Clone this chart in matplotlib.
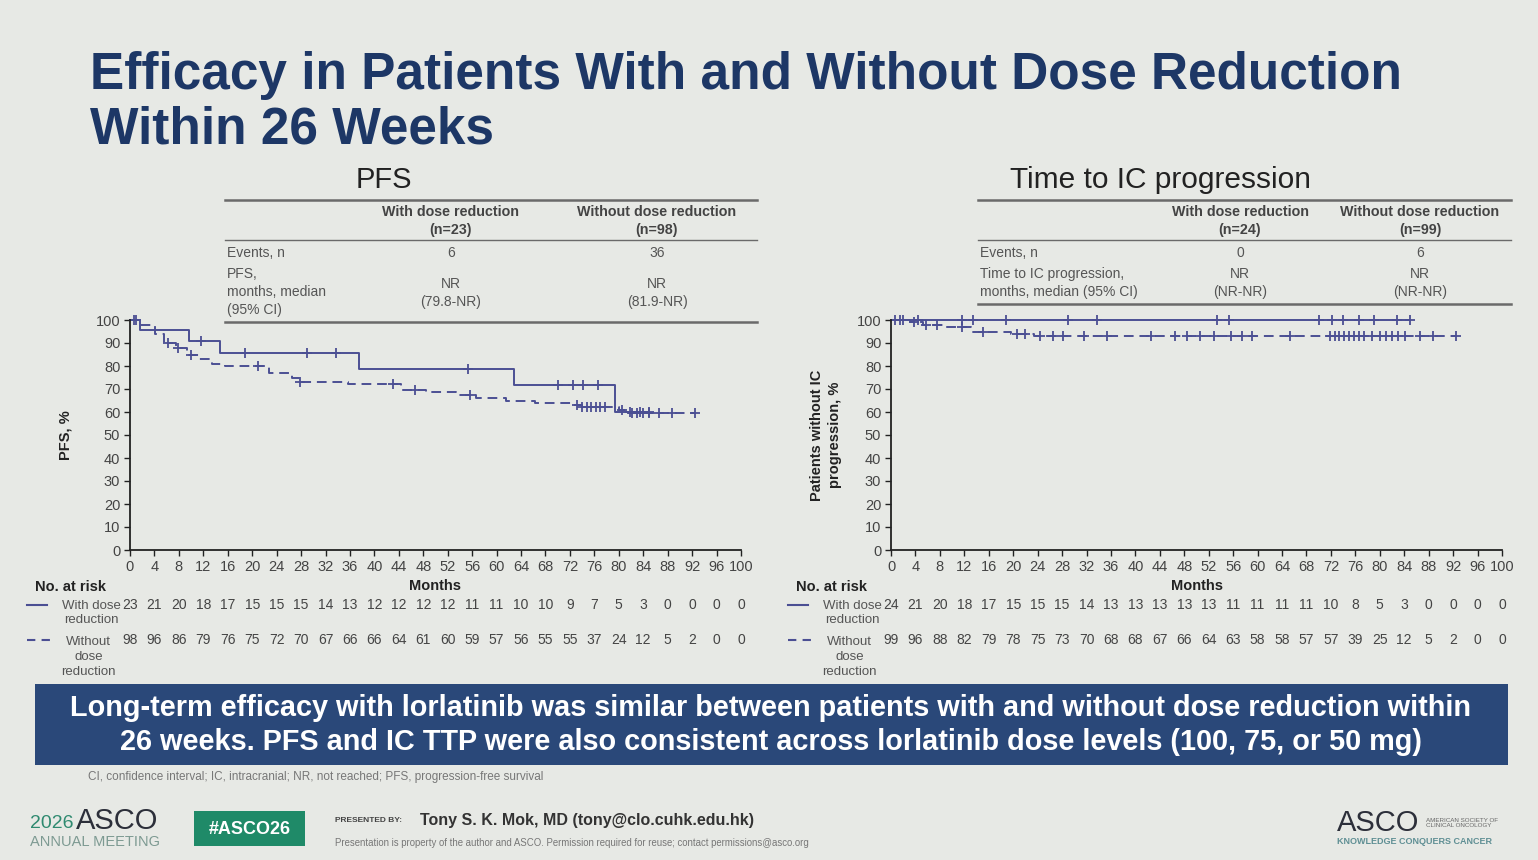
import matplotlib.pyplot as plt
from matplotlib.lines import Line2D
from matplotlib.patches import Rectangle
from matplotlib.transforms import blended_transform_factory
import numpy as np

plt.rcParams['font.family'] = ['Liberation Sans', 'DejaVu Sans']

W, H = 1538, 860

# 数値データ
months = list(range(0, 101, 4))

# PFS: 減量あり / 減量なし
pfs_with_t = [0, 1.7, 9.6, 14.8, 37.5, 62.9, 79.4]
pfs_with_s = [100, 95.7, 90.9, 85.8, 78.8, 71.7, 59.8]
pfs_with_end = 84.9
pfs_with_cens = [1.0, 11.7, 18.9, 28.9, 33.7, 55.3, 70.1, 72.5, 74.2, 76.6, 81.8, 83.5, 84.9]

pfs_wo_t = [0, 1.5, 4.1, 5.5, 7.6, 9.3, 11.3, 13.4, 15.5, 22.7, 26.5, 27.8, 35.7,
            44.3, 48.5, 53.3, 56.7, 61.5, 66.3, 72.5, 73.9, 80.0, 81.4]
pfs_wo_s = [100, 98, 94, 90, 88, 85, 83, 81, 80, 77, 75, 73, 72,
            69.5, 68.5, 67.5, 66, 65, 64, 63, 62, 61, 59.5]
pfs_wo_end = 92.4
pfs_wo_cens = [0.7, 6.2, 7.9, 10.0, 21.0, 27.8, 43.0, 46.7, 55.7, 73.2, 74.0, 74.8,
               75.5, 76.2, 77.0, 77.8, 80.5, 82.2, 83.0, 84.0, 85.0, 86.6, 88.7, 92.4]

# IC progression
ic_with_t = [0]
ic_with_s = [100]
ic_with_end = 84.9
ic_with_cens = [0.7, 2.0, 4.5, 11.7, 13.4, 18.9, 28.9, 33.7, 53.3, 55.3, 70.1, 72.2,
                73.9, 76.6, 79.0, 82.8, 84.9]

ic_wo_t = [0, 3.1, 5.2, 8.9, 13.1, 19.6, 23.4]
ic_wo_s = [100, 99, 98, 97, 95, 94, 93]
ic_wo_end = 92.4
ic_wo_cens = [1.4, 3.8, 5.8, 7.6, 11.7, 15.1, 20.6, 22.0, 24.4, 26.5, 28.2, 31.6, 35.4,
              42.6, 46.4, 48.5, 50.5, 52.9, 55.7, 57.4, 59.1, 65.3, 71.8, 72.6, 73.4,
              74.2, 75.0, 75.8, 76.6, 77.4, 78.7, 80.0, 81.0, 82.0, 83.0, 84.2, 86.6,
              88.7, 92.4]

# at risk
pfs_risk_with = [23, 21, 20, 18, 17, 15, 15, 15, 14, 13, 12, 12, 12, 12, 11, 11, 10, 10, 9, 7, 5, 3, 0, 0, 0, 0]
pfs_risk_wo = [98, 96, 86, 79, 76, 75, 72, 70, 67, 66, 66, 64, 61, 60, 59, 57, 56, 55, 55, 37, 24, 12, 5, 2, 0, 0]
ic_risk_with = [24, 21, 20, 18, 17, 15, 15, 15, 14, 13, 13, 13, 13, 13, 11, 11, 11, 11, 10, 8, 5, 3, 0, 0, 0, 0]
ic_risk_wo = [99, 96, 88, 82, 79, 78, 75, 73, 70, 68, 68, 67, 66, 64, 63, 58, 58, 57, 57, 39, 25, 12, 5, 2, 0, 0]

# 色
bg = '#e7e9e5'
navy = '#1d3766'
km_col = '#4b4f93'


def fx(x):
    return x / W


def fy(y):
    return 1 - y / H


def surv_at(t, s, c):
    idx = np.searchsorted(t, c, side='right') - 1
    return np.array(s)[idx]


def drawKM(ax, t, s, end, cens, dashed):
    xs = list(t) + [end]
    ys = list(s) + [s[-1]]
    kw = dict(color=km_col, lw=1.4, clip_on=False)
    if dashed:
        kw['dashes'] = (5, 3)
    ax.step(xs, ys, where='post', **kw)
    ax.plot(cens, surv_at(t, s, cens), '+', color=km_col, ms=7, mew=1.3, clip_on=False)


def setupAxes(ax):
    ax.set_xlim(0, 100)
    ax.set_ylim(0, 100)
    ax.set_xticks(months)
    ax.set_yticks(range(0, 101, 10))
    ax.set_facecolor('none')
    for sp in ['top', 'right']:
        ax.spines[sp].set_visible(False)
    for sp in ['left', 'bottom']:
        ax.spines[sp].set_color('#222222')
        ax.spines[sp].set_linewidth(1.3)
    ax.tick_params(direction='out', length=4, width=1, color='#222222',
                   labelsize=10.5, labelcolor='#444444', pad=3)


def drawTable(x0, x1, c1, c2, head1, head2, rows, y_top, y_head, y_bot):
    fig.add_artist(Line2D([fx(x0), fx(x1)], [fy(y_top)] * 2, color='#6a6a6a', lw=1.8))
    fig.add_artist(Line2D([fx(x0), fx(x1)], [fy(y_head)] * 2, color='#6a6a6a', lw=1.0))
    fig.add_artist(Line2D([fx(x0), fx(x1)], [fy(y_bot)] * 2, color='#6a6a6a', lw=1.8))
    for cx, h in [(c1, head1), (c2, head2)]:
        fig.text(fx(cx), fy(221), h, ha='center', va='center', fontsize=10.3,
                 fontweight='bold', color='#444444', linespacing=1.35)
    for label, ly, v1, v2, vy in rows:
        fig.text(fx(x0 + 2), fy(ly), label, ha='left', va='center', fontsize=10,
                 color='#555555', linespacing=1.4)
        fig.text(fx(c1), fy(vy), v1, ha='center', va='center', fontsize=10,
                 color='#555555', linespacing=1.4)
        fig.text(fx(c2), fy(vy), v2, ha='center', va='center', fontsize=10,
                 color='#555555', linespacing=1.4)


def drawRisk(ax, x_lab, risk_with, risk_wo, x_line):
    blend = blended_transform_factory(ax.transData, fig.transFigure)
    fig.text(fx(x_lab), fy(587), 'No. at risk', ha='left', va='center',
             fontsize=10.5, fontweight='bold', color='#222222')
    ax.text(50, fy(586), 'Months', transform=blend, ha='center', va='center',
            fontsize=10.5, fontweight='bold', color='#222222')
    for m, a, b in zip(months, risk_with, risk_wo):
        ax.text(m, fy(605), str(a), transform=blend, ha='center', va='center',
                fontsize=10, color='#444444', clip_on=False)
        ax.text(m, fy(640), str(b), transform=blend, ha='center', va='center',
                fontsize=10, color='#444444', clip_on=False)
    fig.add_artist(Line2D([fx(x_line), fx(x_line + 20)], [fy(605)] * 2, color=km_col, lw=1.5))
    fig.add_artist(Line2D([fx(x_line), fx(x_line + 23)], [fy(640)] * 2, color=km_col, lw=1.5,
                          dashes=(4, 3)))
    fig.text(fx(x_line + 94), fy(613), 'With dose\nreduction', ha='right', va='center',
             multialignment='center', fontsize=9.5, color='#555555', linespacing=1.3)
    fig.text(fx(x_line + 89), fy(657), 'Without\ndose\nreduction', ha='right', va='center',
             multialignment='center', fontsize=9.5, color='#555555', linespacing=1.3)


fig = plt.figure(figsize=(W / 100, H / 100), dpi=100)
fig.patch.set_facecolor(bg)

# タイトル
fig.text(fx(90), fy(75), 'Efficacy in Patients With and Without Dose Reduction',
         ha='left', va='center', fontsize=37, fontweight='bold', color=navy)
fig.text(fx(90), fy(130), 'Within 26 Weeks',
         ha='left', va='center', fontsize=37, fontweight='bold', color=navy)

# サブタイトル
fig.text(fx(384), fy(180), 'PFS', ha='center', va='center', fontsize=21, color='#222222')
fig.text(fx(1160), fy(180), 'Time to IC progression', ha='center', va='center',
         fontsize=21.5, color='#222222')

# 表
drawTable(225, 757, 451, 657, 'With dose reduction\n(n=23)', 'Without dose reduction\n(n=98)',
          [('Events, n', 253, '6', '36', 253),
           ('PFS,\nmonths, median\n(95% CI)', 292, 'NR\n(79.8-NR)', 'NR\n(81.9-NR)', 293)],
          200, 240, 322)
drawTable(978, 1511, 1240, 1420, 'With dose reduction\n(n=24)', 'Without dose reduction\n(n=99)',
          [('Events, n', 253, '0', '6', 253),
           ('Time to IC progression,\nmonths, median (95% CI)', 283, 'NR\n(NR-NR)', 'NR\n(NR-NR)', 283)],
          200, 240, 304)

# KM 曲線
ax1 = fig.add_axes([fx(130), fy(550), 611 / W, 230 / H])
setupAxes(ax1)
drawKM(ax1, pfs_with_t, pfs_with_s, pfs_with_end, pfs_with_cens, False)
drawKM(ax1, pfs_wo_t, pfs_wo_s, pfs_wo_end, pfs_wo_cens, True)
fig.text(fx(66), fy(435), 'PFS, %', rotation=90, ha='center', va='center',
         fontsize=10.5, fontweight='bold', color='#222222')

ax2 = fig.add_axes([fx(891), fy(550), 611 / W, 230 / H])
setupAxes(ax2)
drawKM(ax2, ic_with_t, ic_with_s, ic_with_end, ic_with_cens, False)
drawKM(ax2, ic_wo_t, ic_wo_s, ic_wo_end, ic_wo_cens, True)
fig.text(fx(826), fy(435), 'Patients without IC\nprogression, %', rotation=90, ha='center',
         va='center', fontsize=10.5, fontweight='bold', color='#222222', linespacing=1.3)

# リスク表
drawRisk(ax1, 35, pfs_risk_with, pfs_risk_wo, 27)
drawRisk(ax2, 796, ic_risk_with, ic_risk_wo, 788)

# 帯
fig.add_artist(Rectangle((fx(35), fy(765)), fx(1508) - fx(35), (765 - 684) / H,
                         facecolor='#2a4879', edgecolor='none'))
fig.text(fx(771), fy(708), 'Long-term efficacy with lorlatinib was similar between patients with and without dose reduction within',
         ha='center', va='center', fontsize=20.8, fontweight='bold', color='white')
fig.text(fx(771), fy(742), '26 weeks. PFS and IC TTP were also consistent across lorlatinib dose levels (100, 75, or 50 mg)',
         ha='center', va='center', fontsize=20.8, fontweight='bold', color='white')

fig.text(fx(88), fy(777), 'CI, confidence interval; IC, intracranial; NR, not reached; PFS, progression-free survival',
         ha='left', va='center', fontsize=8.5, color='#777777')

# フッター
fig.text(fx(30), fy(824), '2026', ha='left', va='center', fontsize=14, color='#2f8a70')
fig.text(fx(76), fy(821), 'ASCO', ha='left', va='center', fontsize=21, color='#2c2f3a')
fig.text(fx(30), fy(842), 'ANNUAL MEETING', ha='left', va='center', fontsize=10.5, color='#7d9a92')
fig.add_artist(Rectangle((fx(194), fy(846)), fx(305) - fx(194), 35 / H,
                         facecolor='#1f8a68', edgecolor='none'))
fig.text(fx(249.5), fy(829), '#ASCO26', ha='center', va='center', fontsize=13,
         fontweight='bold', color='white')
fig.text(fx(335), fy(821), 'PRESENTED BY:', ha='left', va='center', fontsize=6,
         fontweight='bold', color='#444444')
fig.text(fx(420), fy(820), 'Tony S. K. Mok, MD (tony@clo.cuhk.edu.hk)', ha='left', va='center',
         fontsize=11.5, fontweight='bold', color='#333333')
fig.text(fx(335), fy(843), 'Presentation is property of the author and ASCO. Permission required for reuse; contact permissions@asco.org',
         ha='left', va='center', fontsize=6.9, color='#777777')
fig.text(fx(1337), fy(823), 'ASCO', ha='left', va='center', fontsize=21, color='#2c2f3a')
fig.text(fx(1426), fy(823), 'AMERICAN SOCIETY OF\nCLINICAL ONCOLOGY', ha='left', va='center',
         fontsize=4.5, color='#666666', linespacing=1.2)
fig.text(fx(1337), fy(842), 'KNOWLEDGE CONQUERS CANCER', ha='left', va='center',
         fontsize=6.5, fontweight='bold', color='#5f8f94')

fig.savefig('out.png', dpi=100, facecolor=bg)
